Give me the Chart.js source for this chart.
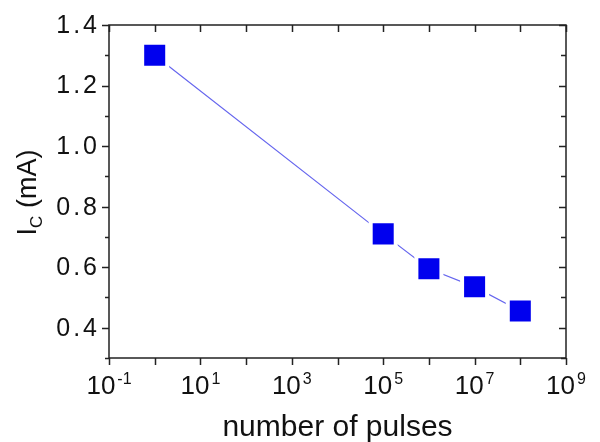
<!DOCTYPE html>
<html>
<head>
<meta charset="utf-8">
<script src="https://cdn.jsdelivr.net/npm/chart.js@4/dist/chart.umd.min.js"></script>
<style>
  html, body { margin: 0; padding: 0; background: #fff; }
  canvas { display: block; }
</style>
</head>
<body>
<canvas id="chart" width="600" height="442"></canvas>
<script>
// data
const pulses = [1, 1e5, 1e6, 1e7, 1e8];
const currentMA = [1.30, 0.71, 0.595, 0.535, 0.455];

// axis ticks
const xDecades = [-1, 0, 1, 2, 3, 4, 5, 6, 7, 8, 9];
const xLabelExps = [-1, 1, 3, 5, 7, 9];
const yMajor = [0.4, 0.6, 0.8, 1.0, 1.2, 1.4];
const yMinor = [0.3, 0.5, 0.7, 0.9, 1.1, 1.3];

const FONT = '"Liberation Sans", Arial, sans-serif';

// draws the box, ticks and labels (superscripts / subscript need manual text)
const framePlugin = {
  id: 'frame',
  afterDraw(chart) {
    const ctx = chart.ctx;
    const a = chart.chartArea;
    const xs = chart.scales.x;
    const ys = chart.scales.y;
    ctx.save();
    ctx.strokeStyle = '#222';
    ctx.lineWidth = 1.5;
    ctx.strokeRect(a.left, a.top, a.right - a.left, a.bottom - a.top);

    ctx.beginPath();
    xDecades.forEach(e => {
      const px = Math.round(xs.getPixelForValue(Math.pow(10, e))) + 0.5;
      ctx.moveTo(px, a.bottom); ctx.lineTo(px, a.bottom + 7);   // out
      ctx.moveTo(px, a.top); ctx.lineTo(px, a.top + 7);         // in
    });
    yMajor.forEach(v => {
      const py = Math.round(ys.getPixelForValue(v)) + 0.5;
      ctx.moveTo(a.left - 7, py); ctx.lineTo(a.left, py);
      ctx.moveTo(a.right, py); ctx.lineTo(a.right - 7, py);
    });
    yMinor.forEach(v => {
      const py = Math.round(ys.getPixelForValue(v)) + 0.5;
      ctx.moveTo(a.left - 4, py); ctx.lineTo(a.left, py);
      ctx.moveTo(a.right, py); ctx.lineTo(a.right - 5, py);
    });
    ctx.stroke();

    ctx.fillStyle = '#111';
    // y tick labels
    ctx.font = '25px ' + FONT;
    ctx.textAlign = 'right';
    ctx.textBaseline = 'middle';
    ctx.letterSpacing = '3px';
    yMajor.forEach(v => {
      ctx.fillText(v.toFixed(1), a.left - 9, ys.getPixelForValue(v) + 1);
    });
    ctx.letterSpacing = '0px';

    // x tick labels 10^n
    ctx.textAlign = 'left';
    ctx.textBaseline = 'alphabetic';
    xLabelExps.forEach(e => {
      const px = xs.getPixelForValue(Math.pow(10, e));
      ctx.font = '26px ' + FONT;
      const bw = ctx.measureText('10').width;
      ctx.font = '16px ' + FONT;
      const sup = e < 0 ? '-' + Math.abs(e) : String(e);
      const sw = ctx.measureText(sup).width;
      const x0 = px - (bw + 2 + sw) / 2;
      ctx.font = '26px ' + FONT;
      ctx.fillText('10', x0, a.bottom + 36);
      ctx.font = '16px ' + FONT;
      ctx.fillText(sup, x0 + bw + 2, a.bottom + 26);
    });

    // x title
    ctx.font = '30px ' + FONT;
    ctx.textAlign = 'center';
    ctx.fillText('number of pulses', (a.left + a.right) / 2, 436);

    // y title: I_C (mA)
    ctx.translate(36, (a.top + a.bottom) / 2 + 1);
    ctx.rotate(-Math.PI / 2);
    ctx.textAlign = 'left';
    ctx.font = '27px ' + FONT;
    const w1 = ctx.measureText('I').width;
    const w3 = ctx.measureText(' (mA)').width;
    ctx.font = '17px ' + FONT;
    const w2 = ctx.measureText('C').width;
    let tx = -(w1 + w2 + w3) / 2;
    ctx.font = '27px ' + FONT;
    ctx.fillText('I', tx, 0);
    ctx.font = '17px ' + FONT;
    ctx.fillText('C', tx + w1, 6);
    ctx.font = '27px ' + FONT;
    ctx.fillText(' (mA)', tx + w1 + w2, 0);
    ctx.restore();
  }
};

new Chart(document.getElementById('chart'), {
  type: 'scatter',
  data: {
    datasets: [{
      data: pulses.map((p, i) => ({ x: p, y: currentMA[i] })),
      showLine: true,
      borderColor: '#6666ee',
      borderWidth: 1.2,
      pointStyle: 'rect',
      pointRadius: 17.7,
      pointHoverRadius: 17.7,
      pointBackgroundColor: '#0000ee',
      pointBorderColor: '#ffffff',
      pointBorderWidth: 4,
      pointHoverBorderWidth: 4
    }]
  },
  options: {
    responsive: false,
    animation: false,
    devicePixelRatio: 1,
    layout: { padding: { left: 109, right: 34, top: 25, bottom: 84 } },
    plugins: { legend: { display: false }, tooltip: { enabled: false } },
    scales: {
      x: { type: 'logarithmic', min: 0.1, max: 1e9, display: false },
      y: { type: 'linear', min: 0.3, max: 1.4, display: false }
    }
  },
  plugins: [framePlugin]
});
</script>
</body>
</html>
